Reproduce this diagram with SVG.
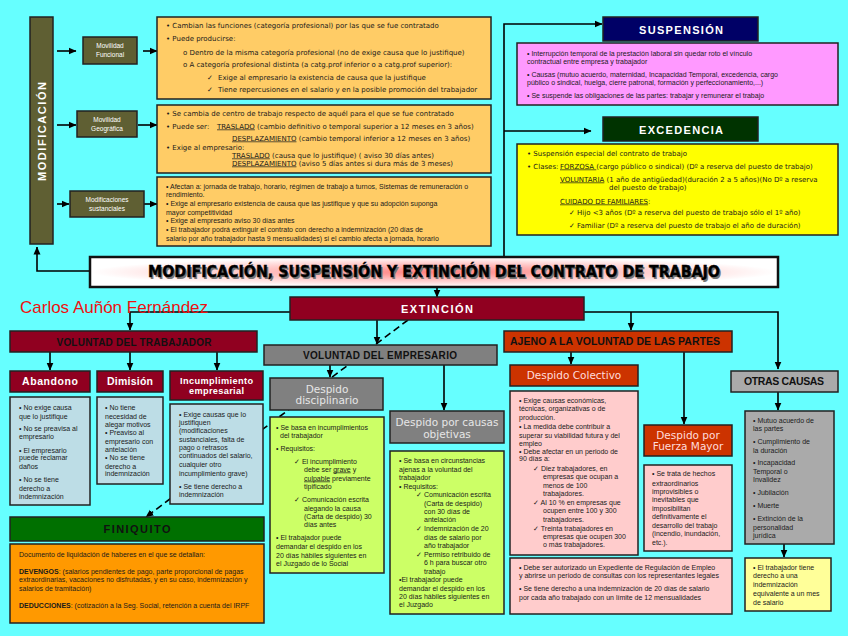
<svg xmlns="http://www.w3.org/2000/svg" width="848" height="636" viewBox="0 0 848 636">
<defs>
<marker id="ah" markerWidth="8" markerHeight="8" refX="7.5" refY="4" orient="auto" markerUnits="userSpaceOnUse"><path d="M0,0.5 L8,4 L0,7.5 z" fill="#000"/></marker>
<radialGradient id="tg" cx="0.5" cy="0.5" r="0.5"><stop offset="0" stop-color="#ff8080"/><stop offset="0.55" stop-color="#ffc8c8"/><stop offset="1" stop-color="#ffffff"/></radialGradient>
<style>
.t{font-family:"Liberation Sans",Arial,sans-serif;font-size:7px;fill:#1a1a1a}
.v{font-family:"DejaVu Sans",Verdana,sans-serif}
.b{stroke:#222;stroke-width:1.5}
.ln{stroke:#000;stroke-width:1.6;fill:none}
.hw{font-family:"Liberation Sans",Arial,sans-serif;font-weight:bold;fill:#fff;text-anchor:middle}
.hn{font-family:"Liberation Sans",Arial,sans-serif;fill:#fff;text-anchor:middle;font-size:6.5px}
.hk{font-family:"Liberation Sans",Arial,sans-serif;font-weight:bold;fill:#111;text-anchor:middle}
.hg{font-family:"DejaVu Sans",sans-serif;fill:#e6e6e6;text-anchor:middle;font-size:10.5px}
.u{text-decoration:underline}
</style>
</defs>
<rect width="848" height="636" fill="#66ffff"/>

<g id="connectors">
<path class="ln" d="M90,271 H37 V247" marker-end="url(#ah)"/>
<line class="ln" x1="57" y1="51" x2="76" y2="51" marker-end="url(#ah)"/>
<line class="ln" x1="143" y1="51" x2="157" y2="51" marker-end="url(#ah)"/>
<line class="ln" x1="57" y1="125" x2="76" y2="125" marker-end="url(#ah)"/>
<line class="ln" x1="138" y1="125" x2="157" y2="125" marker-end="url(#ah)"/>
<line class="ln" x1="57" y1="204" x2="69" y2="204" marker-end="url(#ah)"/>
<line class="ln" x1="144" y1="204" x2="157" y2="204" marker-end="url(#ah)"/>
<path class="ln" d="M504,257 V24 H602" marker-end="url(#ah)"/>
<line class="ln" x1="504" y1="131" x2="591" y2="131" marker-end="url(#ah)"/>
<line class="ln" x1="437" y1="287" x2="437" y2="297" marker-end="url(#ah)"/>
<path class="ln" d="M290,312 H130 V330" marker-end="url(#ah)"/>
<path class="ln" d="M584,312 H778 V369" marker-end="url(#ah)"/>
<line class="ln" x1="631" y1="312" x2="631" y2="330" marker-end="url(#ah)"/>
<line class="ln" x1="377" y1="320" x2="377" y2="344" marker-end="url(#ah)"/>
<line class="ln" x1="50" y1="352" x2="50" y2="370" marker-end="url(#ah)"/>
<line class="ln" x1="130" y1="352" x2="130" y2="370" marker-end="url(#ah)"/>
<line class="ln" x1="217" y1="352" x2="217" y2="370" marker-end="url(#ah)"/>
<line class="ln" x1="330" y1="365" x2="330" y2="377" marker-end="url(#ah)"/>
<line class="ln" x1="444" y1="365" x2="444" y2="410" marker-end="url(#ah)"/>
<line class="ln" x1="571" y1="352" x2="571" y2="364" marker-end="url(#ah)"/>
<line class="ln" x1="684" y1="352" x2="684" y2="424" marker-end="url(#ah)"/>
<line class="ln" x1="778" y1="392" x2="778" y2="410" marker-end="url(#ah)"/>
<line class="ln" x1="784" y1="544" x2="784" y2="557" marker-end="url(#ah)"/>
<line class="ln" x1="408" y1="320" x2="146" y2="517" stroke-dasharray="7,4" marker-end="url(#ah)"/>
</g>

<g id="modificacion">
<rect class="b" x="30" y="17" width="23" height="227" fill="#5f5f33"/>
<text class="hw" transform="translate(46,131.5) rotate(-90)" font-size="11" textLength="99" lengthAdjust="spacing">MODIFICACIÓN</text>
</g>

<g id="mov-funcional">
<rect class="b" x="83" y="37" width="54" height="27" fill="#5f5f33"/>
<text class="hn" x="110" y="48">Movilidad</text>
<text class="hn" x="110" y="57">Funcional</text>
</g>
<g id="box-funcional">
<rect class="b" x="157" y="17" width="334" height="82" fill="#ffcc66"/>
<text class="t v" font-size="7.1"><tspan x="166" y="27.5">• Cambian las funciones (categoría profesional) por las que se fue contratado</tspan><tspan x="166" y="41">• Puede producirse:</tspan><tspan x="183" y="54.5">o Dentro de la misma categoría profesional (no de exige causa que lo justifique)</tspan><tspan x="183" y="66.5">o A categoría profesional distinta (a catg.prof inferior o a catg.prof superior):</tspan><tspan x="207" y="79.5">✓</tspan><tspan x="218" y="79.5">Exige al empresario la existencia de causa que la justifique</tspan><tspan x="207" y="91.5">✓</tspan><tspan x="218" y="91.5">Tiene repercusiones en el salario y en la posible promoción del trabajador</tspan></text>
</g>

<g id="mov-geografica">
<rect class="b" x="77" y="111" width="60" height="26" fill="#5f5f33"/>
<text class="hn" x="107" y="122">Movilidad</text>
<text class="hn" x="107" y="131">Geográfica</text>
</g>
<g id="box-geografica">
<rect class="b" x="157" y="105" width="334" height="68" fill="#ffcc66"/>
<text class="t v" font-size="7.3"><tspan x="166" y="115.5">• Se cambia de centro de trabajo respecto de aquél para el que se fue contratado</tspan><tspan x="166" y="128.5">• Puede ser:  </tspan><tspan x="217" y="128.5" class="u">TRASLADO</tspan><tspan> (cambio definitivo o temporal superior a 12 meses en 3 años)</tspan><tspan x="232" y="140.5" class="u">DESPLAZAMIENTO</tspan><tspan> (cambio temporal inferior a 12 meses en 3 años)</tspan><tspan x="166" y="149.5">• Exige al empresario:</tspan><tspan x="232" y="157.5" class="u">TRASLADO</tspan><tspan> (causa que lo justifique) ( aviso 30 días antes)</tspan><tspan x="232" y="165.5" class="u">DESPLAZAMIENTO</tspan><tspan> (aviso 5 días antes si dura más de 3 meses)</tspan></text>
</g>

<g id="mod-sustanciales">
<rect class="b" x="70" y="191" width="74" height="26" fill="#5f5f33"/>
<text class="hn" x="107" y="202">Modificaciones</text>
<text class="hn" x="107" y="211">sustanciales</text>
</g>
<g id="box-sustanciales">
<rect class="b" x="157" y="177" width="334" height="69" fill="#ffcc66"/>
<text class="t" font-size="6.95"><tspan x="166" y="188.5">• Afectan a: jornada de trabajo, horario, régimen de trabajo a turnos, Sistemas de remuneración o</tspan><tspan x="166" y="196.5">rendimiento.</tspan><tspan x="166" y="205.5">• Exige al empresario existencia de causa que las justifique y que su adopción suponga</tspan><tspan x="166" y="214.5">mayor competitividad</tspan><tspan x="166" y="222.5">• Exige al empresario aviso 30 días antes</tspan><tspan x="166" y="231.5">• El trabajador podrá extinguir el contrato con derecho a indemnización (20 días de</tspan><tspan x="166" y="240.5">salario por año trabajador hasta 9 mensualidades) si el cambio afecta a jornada, horario</tspan></text>
</g>

<g id="suspension">
<rect class="b" x="603" y="17" width="155" height="24" fill="#000066"/>
<text class="hw" x="681" y="33.5" font-size="11" font-weight="900" textLength="84" lengthAdjust="spacing">SUSPENSIÓN</text>
</g>
<g id="box-suspension">
<rect class="b" x="517" y="43" width="321" height="62" fill="#ff99ff"/>
<text class="t" font-size="7.45"><tspan x="527" y="55.5">• Interrupción temporal de la prestación laboral sin quedar roto el vínculo</tspan><tspan x="527" y="63.5">contractual entre empresa y trabajador</tspan><tspan x="527" y="76.5">• Causas (mutuo acuerdo, maternidad, Incapacidad Temporal, excedencia, cargo</tspan><tspan x="527" y="84.5">público o sindical, huelga, cierre patronal, formación y perfeccionamiento,...)</tspan><tspan x="527" y="97.5">• Se suspende las obligaciones de las partes: trabajar y remunerar el trabajo</tspan></text>
</g>

<g id="excedencia">
<rect class="b" x="603" y="117" width="155" height="24" fill="#003300"/>
<text class="hw" x="681" y="133.5" font-size="11" font-weight="900" textLength="84" lengthAdjust="spacing">EXCEDENCIA</text>
</g>
<g id="box-excedencia">
<rect class="b" x="517" y="144" width="321" height="91" fill="#ffff00"/>
<text class="t v" font-size="7.15"><tspan x="527" y="155.5">• Suspensión especial del contrato de trabajo</tspan><tspan x="527" y="168.5">• Clases: </tspan><tspan x="560" y="168.5" class="u">FORZOSA </tspan><tspan> (cargo público o sindical) (Dº a reserva del puesto de trabajo)</tspan><tspan x="560" y="181.5" class="u">VOLUNTARIA</tspan><tspan> (1 año de antigüedad)(duración  2 a 5 años)(No Dº a reserva</tspan><tspan x="609" y="189.5">del puesto de trabajo)</tspan><tspan x="560" y="203.5" class="u">CUIDADO DE FAMILIARES</tspan><tspan>:</tspan><tspan x="569" y="214.5">✓ Hijo &lt;3 años (Dº a reserva del puesto de trabajo sólo el 1º año)</tspan><tspan x="569" y="227.5">✓ Familiar (Dº a reserva del puesto de trabajo el año de duración)</tspan></text>
</g>

<g id="titulo">
<rect x="90" y="257" width="688" height="30" fill="url(#tg)" stroke="#111" stroke-width="2.5"/>
<text x="435.5" y="278.5" font-family="'DejaVu Sans',sans-serif" font-weight="bold" font-size="15" fill="#777" text-anchor="middle" textLength="572" lengthAdjust="spacingAndGlyphs">MODIFICACIÓN, SUSPENSIÓN Y EXTINCIÓN DEL CONTRATO DE TRABAJO</text>
<text x="434" y="277" font-family="'DejaVu Sans',sans-serif" font-weight="bold" font-size="15" fill="#000" stroke="#000" stroke-width="0.4" text-anchor="middle" textLength="572" lengthAdjust="spacingAndGlyphs">MODIFICACIÓN, SUSPENSIÓN Y EXTINCIÓN DEL CONTRATO DE TRABAJO</text>
</g>

<g id="autor">
<text x="20" y="313" font-family="'Liberation Sans',Arial,sans-serif" font-size="17" fill="#ee1111">Carlos Auñón Fernández</text>
</g>

<g id="extincion">
<rect class="b" x="290" y="297" width="294" height="23" fill="#900020"/>
<text class="hw" x="437" y="313" font-size="11" font-weight="900" textLength="72" lengthAdjust="spacing">EXTINCIÓN</text>
</g>

<g id="vol-trabajador">
<rect class="b" x="10" y="331" width="247" height="21" fill="#900020"/>
<text class="hk" x="134" y="345.5" font-size="10" textLength="155" lengthAdjust="spacing">VOLUNTAD DEL TRABAJADOR</text>
</g>

<g id="abandono">
<rect class="b" x="10" y="371" width="80" height="21" fill="#900020"/>
<text class="hw" x="50" y="385" font-size="10.5" textLength="56" lengthAdjust="spacing">Abandono</text>
<rect class="b" x="10" y="397" width="80" height="108" fill="#bddde6"/>
<text class="t" font-size="6.9"><tspan x="19" y="409.5">• No exige causa</tspan><tspan x="19" y="418.5">que lo justifique</tspan><tspan x="19" y="430.5">• No se preavisa al</tspan><tspan x="19" y="438.5">empresario</tspan><tspan x="19" y="452.5">• El empresario</tspan><tspan x="19" y="459.5">puede reclamar</tspan><tspan x="19" y="468.5">daños</tspan><tspan x="19" y="481.5">• No se tiene</tspan><tspan x="19" y="490.5">derecho a</tspan><tspan x="19" y="498.5">indemnización</tspan></text>
</g>

<g id="dimision">
<rect class="b" x="97" y="371" width="66" height="21" fill="#900020"/>
<text class="hw" x="130" y="385" font-size="10.5" textLength="46" lengthAdjust="spacing">Dimisión</text>
<rect class="b" x="97" y="397" width="66" height="87" fill="#bddde6"/>
<text class="t" font-size="6.9"><tspan x="105" y="409.5">• No tiene</tspan><tspan x="105" y="418.5">necesidad de</tspan><tspan x="105" y="426.5">alegar motivos</tspan><tspan x="105" y="434.5">• Preaviso al</tspan><tspan x="105" y="443.5">empresario con</tspan><tspan x="105" y="451.5">antelación</tspan><tspan x="105" y="459.5">• No se tiene</tspan><tspan x="105" y="468.5">derecho a</tspan><tspan x="105" y="475.5">indemnización</tspan></text>
</g>

<g id="incumplimiento">
<rect class="b" x="170" y="371" width="93" height="29" fill="#900020"/>
<text class="hw" x="216.5" y="384" font-size="9.2" textLength="73" lengthAdjust="spacing">Incumplimiento</text>
<text class="hw" x="216.5" y="394" font-size="9.2" textLength="55" lengthAdjust="spacing">empresarial</text>
<rect class="b" x="170" y="404" width="93" height="100" fill="#bddde6"/>
<text class="t" font-size="6.9"><tspan x="179" y="416.5">• Exige causas que lo</tspan><tspan x="179" y="424.5">justifiquen</tspan><tspan x="179" y="432.5">(modificaciones</tspan><tspan x="179" y="441.5">sustanciales, falta de</tspan><tspan x="179" y="449.5">pago o retrasos</tspan><tspan x="179" y="457.5">continuados del salario,</tspan><tspan x="179" y="466.5">cualquier otro</tspan><tspan x="179" y="475.5">incumplimiento grave)</tspan><tspan x="179" y="488.5">• Se tiene derecho a</tspan><tspan x="179" y="496.5">indemnización</tspan></text>
</g>

<g id="finiquito">
<rect class="b" x="10" y="517" width="254" height="24" fill="#007000"/>
<text class="hk" x="137" y="532.5" font-size="11" font-weight="900" textLength="67" lengthAdjust="spacing">FINIQUITO</text>
<rect class="b" x="10" y="544" width="254" height="79" fill="#ff9900"/>
<text class="t" font-size="6.7"><tspan x="19" y="556.5">Documento de liquidación de haberes en el que se detallan:</tspan><tspan x="19" y="573.5" font-weight="bold">DEVENGOS</tspan><tspan>: (salarios pendientes de pago, parte proporcional de pagas</tspan><tspan x="19" y="581.5">extraordinarias, vacaciones no disfrutadas, y en su caso, indemnización y</tspan><tspan x="19" y="590.5">salarios de tramitación)</tspan><tspan x="19" y="607.5" font-weight="bold">DEDUCCIONES</tspan><tspan>: (cotización a la Seg. Social, retención a cuenta del IRPF</tspan></text>
</g>

<g id="vol-empresario">
<rect class="b" x="264" y="345" width="233" height="20" fill="#808080"/>
<text class="hk" x="380" y="358.5" font-size="10" textLength="154" lengthAdjust="spacing">VOLUNTAD DEL EMPRESARIO</text>
</g>

<g id="disciplinario">
<rect class="b" x="270" y="378" width="113" height="32" fill="#808080"/>
<text class="hg" x="327" y="392.5">Despido</text>
<text class="hg" x="327" y="404">disciplinario</text>
<rect class="b" x="270" y="417" width="114" height="156" fill="#ccff66"/>
<text class="t" font-size="7"><tspan x="276" y="429.5">• Se basa en incumplimientos</tspan><tspan x="280" y="437.5">del trabajador</tspan><tspan x="276" y="450.5">• Requisitos:</tspan><tspan x="294" y="463.5">✓ El incumplimiento</tspan><tspan x="304" y="471.5">debe ser </tspan><tspan class="u">grave</tspan><tspan> y</tspan><tspan x="304" y="480.5" class="u">culpable</tspan><tspan> previamente</tspan><tspan x="304" y="488.5">tipificado</tspan><tspan x="294" y="501.5">✓ Comunicación escrita</tspan><tspan x="304" y="510.5">alegando la causa</tspan><tspan x="304" y="518.5">(Carta de despido) 30</tspan><tspan x="304" y="526.5">días antes</tspan><tspan x="276" y="539.5">• El trabajador puede</tspan><tspan x="276" y="548.5">demandar el despido en los</tspan><tspan x="276" y="557.5">20 días hábiles siguientes en</tspan><tspan x="276" y="565.5">el Juzgado de lo Social</tspan></text>
</g>

<g id="objetivas">
<rect class="b" x="390" y="411" width="114" height="32" fill="#808080"/>
<text class="hg" x="447" y="425.5" font-size="11">Despido por causas</text>
<text class="hg" x="447" y="437.5" font-size="11">objetivas</text>
<rect class="b" x="390" y="451" width="114" height="163" fill="#ccff66"/>
<text class="t" font-size="7"><tspan x="399" y="462.5">• Se basa en circunstancias</tspan><tspan x="399" y="471.5">ajenas a la voluntad del</tspan><tspan x="399" y="479.5">trabajador</tspan><tspan x="399" y="488.5">• Requisitos:</tspan><tspan x="416" y="496.5">✓ Comunicación escrita</tspan><tspan x="424" y="505.5">(Carta de despido)</tspan><tspan x="424" y="513.5">con 30 días de</tspan><tspan x="424" y="521.5">antelación</tspan><tspan x="416" y="530.5">✓ Indemnización de 20</tspan><tspan x="424" y="539.5">días de salario por</tspan><tspan x="424" y="547.5">año trabajador</tspan><tspan x="416" y="556.5">✓ Permiso retribuido de</tspan><tspan x="424" y="564.5">6 h para buscar otro</tspan><tspan x="424" y="573.5">trabajo</tspan><tspan x="399" y="581.5">•El trabajador puede</tspan><tspan x="399" y="590.5">demandar el despido en los</tspan><tspan x="399" y="598.5">20 días hábiles siguientes en</tspan><tspan x="399" y="606.5">el Juzgado</tspan></text>
</g>

<g id="ajeno">
<rect class="b" x="504" y="331" width="228" height="21" fill="#cc3300"/>
<text class="hk" x="615" y="345" font-size="10.5" textLength="210" lengthAdjust="spacing">AJENO A LA VOLUNTAD DE LAS PARTES</text>
</g>

<g id="colectivo">
<rect class="b" x="510" y="365" width="128" height="21" fill="#cc3300"/>
<text class="hg" x="574" y="379" font-size="11" style="fill:#ffdcdc">Despido Colectivo</text>
<rect class="b" x="510" y="391" width="128" height="164" fill="#ffcccc"/>
<text class="t" font-size="6.8"><tspan x="519" y="402.5">• Exige causas económicas,</tspan><tspan x="519" y="410.5">técnicas, organizativas o de</tspan><tspan x="519" y="419.5">producción.</tspan><tspan x="519" y="428.5">• La medida debe contribuir a</tspan><tspan x="519" y="437.5">superar su viabilidad futura y del</tspan><tspan x="519" y="445.5">empleo</tspan><tspan x="519" y="453.5">• Debe afectar en un periodo de</tspan><tspan x="519" y="460.5">90 días a:</tspan><tspan x="533" y="470.5">✓ Diez trabajadores, en</tspan><tspan x="543" y="478.5">empresas que ocupan a</tspan><tspan x="543" y="487.5">menos de 100</tspan><tspan x="543" y="495.5">trabajadores.</tspan><tspan x="533" y="504.5">✓ Al 10 % en  empresas que</tspan><tspan x="543" y="512.5">ocupen entre 100 y 300</tspan><tspan x="543" y="521.5">trabajadores.</tspan><tspan x="533" y="530.5">✓ Treinta trabajadores en</tspan><tspan x="543" y="538.5">empresas que ocupen 300</tspan><tspan x="543" y="546.5">o más trabajadores.</tspan></text>
<rect class="b" x="510" y="558" width="222" height="56" fill="#ffcccc"/>
<text class="t" font-size="6.8"><tspan x="519" y="569.5">• Debe ser autorizado un Expediente de Regulación de Empleo</tspan><tspan x="519" y="577.5">y abrirse un periodo de consultas con los representantes legales</tspan><tspan x="519" y="590.5">• Se tiene derecho a una indemnización de 20 días de salario</tspan><tspan x="519" y="599.5">por cada año trabajado con un límite de 12 mensualidades</tspan></text>
</g>

<g id="fuerza-mayor">
<rect class="b" x="644" y="425" width="88" height="31" fill="#cc3300"/>
<text class="hg" x="688" y="438.5" font-size="11" style="fill:#ffdcdc">Despido por</text>
<text class="hg" x="688" y="450" font-size="11" style="fill:#ffdcdc">Fuerza Mayor</text>
<rect class="b" x="644" y="465" width="88" height="86" fill="#ffcccc"/>
<text class="t" font-size="6.8"><tspan x="652" y="475.5">• Se trata de hechos</tspan><tspan x="652" y="485.5">extraordinarios</tspan><tspan x="652" y="493.5">improvisibles o</tspan><tspan x="652" y="501.5">inevitables que</tspan><tspan x="652" y="510.5">imposibilitan</tspan><tspan x="652" y="518.5">definitivamente el</tspan><tspan x="652" y="527.5">desarrollo del trabajo</tspan><tspan x="652" y="535.5">(incendio, inundación,</tspan><tspan x="652" y="544.5">etc.).</tspan></text>
</g>

<g id="otras">
<rect class="b" x="731" y="371" width="107" height="21" fill="#aaaaaa"/>
<text class="hk" x="784" y="385" font-size="10.5" textLength="80" lengthAdjust="spacing">OTRAS CAUSAS</text>
<rect class="b" x="745" y="411" width="89" height="133" fill="#aaaaaa"/>
<text class="t" font-size="7.3"><tspan x="753" y="422.5">• Mutuo acuerdo de</tspan><tspan x="753" y="430.5">las partes</tspan><tspan x="753" y="443.5">• Cumplimiento de</tspan><tspan x="753" y="452.5">la duración</tspan><tspan x="753" y="464.5">• Incapacidad</tspan><tspan x="753" y="473.5">Temporal o</tspan><tspan x="753" y="481.5">Invalidez</tspan><tspan x="753" y="494.5">• Jubilación</tspan><tspan x="753" y="507.5">• Muerte</tspan><tspan x="753" y="520.5">• Extinción de la</tspan><tspan x="753" y="529.5">personalidad</tspan><tspan x="753" y="537.5">jurídica</tspan></text>
<rect class="b" x="745" y="558" width="86" height="53" fill="#ffff99"/>
<text class="t" font-size="6.9"><tspan x="753" y="569.5">• El trabajador tiene</tspan><tspan x="753" y="577.5">derecho a una</tspan><tspan x="753" y="586.5">indemnización</tspan><tspan x="753" y="595.5">equivalente a un mes</tspan><tspan x="753" y="604.5">de salario</tspan></text>
</g>
</svg>
